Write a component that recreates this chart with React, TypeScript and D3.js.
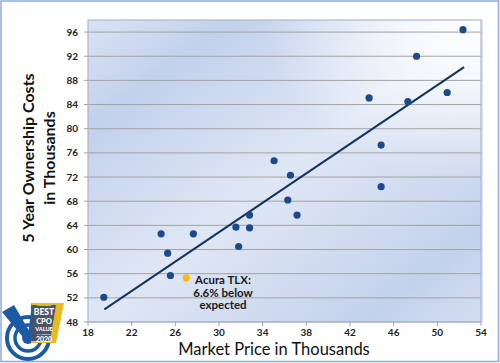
import React from "react";
import * as d3 from "d3";

const priceK: number[] = [19.45, 24.7, 25.3, 25.55, 27.65, 31.55, 31.8, 32.8, 32.8, 35.05, 36.55, 36.3, 37.15, 43.75, 44.85, 44.85, 47.3, 48.1, 50.9, 52.35];
const costK: number[] = [52.1, 62.6, 59.4, 55.7, 62.6, 63.7, 60.5, 65.7, 63.6, 74.7, 72.3, 68.2, 65.7, 85.1, 77.3, 70.4, 84.5, 92.0, 86.0, 96.4];
const highlightPoint = { price: 27.0, cost: 55.3, label: ["Acura TLX:", "6.6% below", "expected"] };
const trendX: number[] = [19.5, 52.45];
const trendY: number[] = [50.1, 90.2];
const xTicks: number[] = [18, 22, 26, 30, 34, 38, 42, 46, 50, 54];
const yTicks: number[] = [48, 52, 56, 60, 64, 68, 72, 76, 80, 84, 88, 92, 96];

const W = 500;
const H = 363;
const L = 88, R = 481, T = 20, B = 322;

export default function App() {
  const x = d3.scaleLinear().domain([18, 54]).range([L, R]);
  const y = d3.scaleLinear().domain([48, 98]).range([B, T]);
  const line = d3.line<[number, number]>().x((d) => x(d[0])).y((d) => y(d[1]));
  const trend: [number, number][] = trendX.map((v, i) => [v, trendY[i]]);
  const font = "Lato, 'Open Sans', sans-serif";

  return (
    <svg width={W} height={H} style={{ position: "absolute", left: 0, top: 0, display: "block" }}>
      <defs>
        <linearGradient id="plotBg" x1="0" y1="0" x2="1" y2="1">
          <stop offset="0" stopColor="#dae3f3" />
          <stop offset="0.18" stopColor="#c2d1ec" />
          <stop offset="0.5" stopColor="#dfe7f5" />
          <stop offset="0.85" stopColor="#c3d2ec" />
          <stop offset="1" stopColor="#d3def1" />
        </linearGradient>
        <radialGradient id="whiteGlow" cx="1" cy="0" r="0.55">
          <stop offset="0" stopColor="#ffffff" stopOpacity="1" />
          <stop offset="0.35" stopColor="#ffffff" stopOpacity="0.75" />
          <stop offset="1" stopColor="#ffffff" stopOpacity="0" />
        </radialGradient>
      </defs>
      <rect x={0} y={0} width={W} height={H} fill="#ffffff" />
      <rect x={1} y={1} width={W - 2.5} height={H - 2.5} fill="none" stroke="#8faadc" strokeWidth={1.5} />

      {/* plot area */}
      <rect x={L} y={T} width={R - L} height={B - T} fill="url(#plotBg)" />
      <rect x={L} y={T} width={R - L} height={B - T} fill="url(#whiteGlow)" />
      {yTicks.map((t) => (
        <line key={"g" + t} x1={L} x2={R} y1={y(t)} y2={y(t)} stroke="#a3a3a3" strokeWidth={1} />
      ))}
      <rect x={L} y={T} width={R - L} height={B - T} fill="none" stroke="#a9b8d1" strokeWidth={1.2} />
      <line x1={R + 1} x2={R + 1} y1={T} y2={B} stroke="#b8c4da" strokeWidth={1} />

      {/* ticks */}
      {yTicks.map((t) => (
        <line key={"yt" + t} x1={L - 4} x2={L} y1={y(t)} y2={y(t)} stroke="#a3a3a3" />
      ))}
      {xTicks.map((t) => (
        <line key={"xt" + t} x1={x(t)} x2={x(t)} y1={B} y2={B + 4} stroke="#a3a3a3" />
      ))}
      {yTicks.map((t) => (
        <text key={"yl" + t} x={78} y={y(t)} dy="0.35em" textAnchor="end" fontFamily={font} fontWeight="bold" fontSize={10} fill="#222">
          {t}
        </text>
      ))}
      {xTicks.map((t) => (
        <text key={"xl" + t} x={x(t)} y={336} textAnchor="middle" fontFamily={font} fontWeight="bold" fontSize={10} fill="#222">
          {t}
        </text>
      ))}

      {/* trend */}
      <path d={line(trend) || ""} fill="none" stroke="#13325e" strokeWidth={2} />

      {/* points */}
      {priceK.map((p, i) => (
        <circle key={"p" + i} cx={x(p)} cy={y(costK[i])} r={3.6} fill="#1b4a86" />
      ))}
      <circle cx={x(highlightPoint.price)} cy={y(highlightPoint.cost)} r={3.6} fill="#f7bd0c" />
      {highlightPoint.label.map((s, i) => (
        <text key={"hl" + i} x={223} y={284 + i * 12.5} textAnchor="middle" fontFamily={font} fontWeight="bold" fontSize={11.5} fill="#1a1a1a">
          {s}
        </text>
      ))}

      {/* axis titles */}
      <text x={274} y={354.5} textAnchor="middle" fontFamily={font} fontSize={16.5} fill="#111">
        Market Price in Thousands
      </text>
      <g transform="translate(28,158) rotate(-90)">
        <text x={0} y={0} dy="0.35em" textAnchor="middle" fontFamily={font} fontWeight="bold" fontSize={16} fill="#111">
          5 Year Ownership Costs
        </text>
      </g>
      <g transform="translate(49,158) rotate(-90)">
        <text x={0} y={0} dy="0.35em" textAnchor="middle" fontFamily={font} fontWeight="bold" fontSize={16} fill="#111">
          in Thousands
        </text>
      </g>

      {/* badge logo */}
      <g>
        <circle cx={28} cy={338} r={21} fill="#ffffff" stroke="#1d5aa6" strokeWidth={4} />
        <circle cx={28} cy={338} r={13} fill="#ffffff" stroke="#1d5aa6" strokeWidth={3.5} />
        <circle cx={28} cy={338} r={6} fill="#1d5aa6" />
        <polygon points="2,312 14,305 31,334 27,342" fill="#1d5aa6" />
        <polygon points="27,342 31,334 36,304 32,304" fill="#1d5aa6" />
        <polygon points="31,303 64,303 56,343 31,343" fill="#e8b923" />
        <polygon points="31,305 56,305 50,341 31,341" fill="#4a5468" />
        <text x={44} y={305.6} textAnchor="middle" fontFamily={font} fontWeight="bold" fontSize={2.4} fill="#ffffff">VOTED BEST</text>
        <text x={44} y={314.6} textAnchor="middle" fontFamily={font} fontWeight="900" fontSize={8.5} fill="#ffffff">BEST</text>
        <text x={44} y={323.9} textAnchor="middle" fontFamily={font} fontWeight="900" fontSize={7.5} fill="#ffffff">CPO</text>
        <text x={44} y={331} textAnchor="middle" fontFamily={font} fontWeight="900" fontSize={5.5} fill="#ffffff">VALUE</text>
        <text x={44} y={334.7} textAnchor="middle" fontFamily={font} fontWeight="bold" fontSize={2.4} fill="#ffffff">IN AMERICA</text>
        <text x={44} y={342.2} textAnchor="middle" fontFamily={font} fontWeight="900" fontSize={7} fill="#ffffff">2020</text>
      </g>
    </svg>
  );
}
